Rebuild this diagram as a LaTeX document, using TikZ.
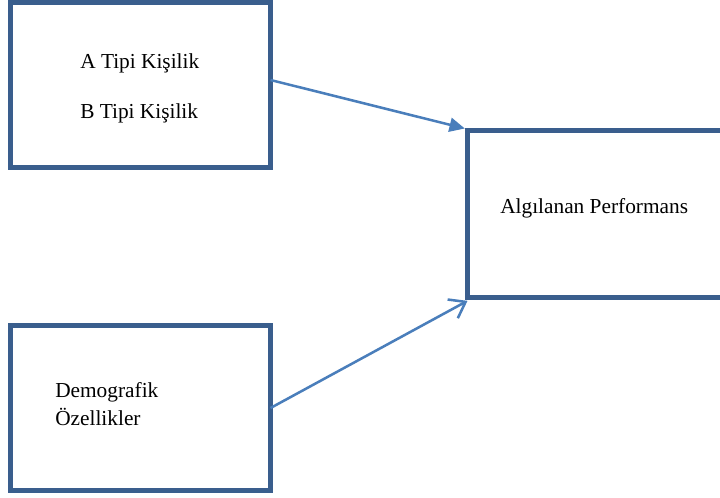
\documentclass[tikz,border=0pt]{standalone}
\usepackage{fontspec}
\setmainfont{Liberation Serif}
\usetikzlibrary{arrows.meta}
\definecolor{boxblue}{HTML}{3A5E8D}
\definecolor{arrblue}{HTML}{4A7EBB}
\tikzset{
  frame/.style={draw=boxblue, line width=3.75pt, rectangle, outer sep=0pt, inner sep=0pt, fill=none},
  lbl/.style={anchor=base west, inner sep=0pt, font=\fontsize{16}{19}\selectfont},
  arr/.style={draw=arrblue, line width=1.9pt},
}
\begin{document}
\begin{tikzpicture}[x=0.75pt,y=-0.75pt]
\useasboundingbox (0,0) rectangle (720,497);
\clip (0,0) rectangle (720,497);
\node[frame, minimum width=195pt, minimum height=123.75pt] (b1) at (140.5,85) {};
\node[frame, minimum width=234.4pt, minimum height=125.25pt] (b2) at (623.75,214) {};
\node[frame, minimum width=195pt, minimum height=123.75pt] (b3) at (140.5,408) {};
\node[lbl] (t1) at (80,68) {A Tipi Kişilik};
\node[lbl] (t2) at (80,118) {B Tipi Kişilik};
\node[lbl] (t3) at (500,213) {Algılanan Performans};
\node[lbl] (t4) at (55,397) {Demografik};
\node[lbl] (t5) at (55,425) {Özellikler};
\draw[arr, -{Triangle[length=11.5pt,width=10.5pt]}] ([yshift=3.75pt]b1.east) -- ([shift={(-2pt,1.5pt)}]b2.north west);
\draw[arr, -{Straight Barb[length=11pt,width=16pt,line width=1.9pt]}] (b3.east) -- ([yshift=-2.5pt]b2.south west);
\end{tikzpicture}
\end{document}
